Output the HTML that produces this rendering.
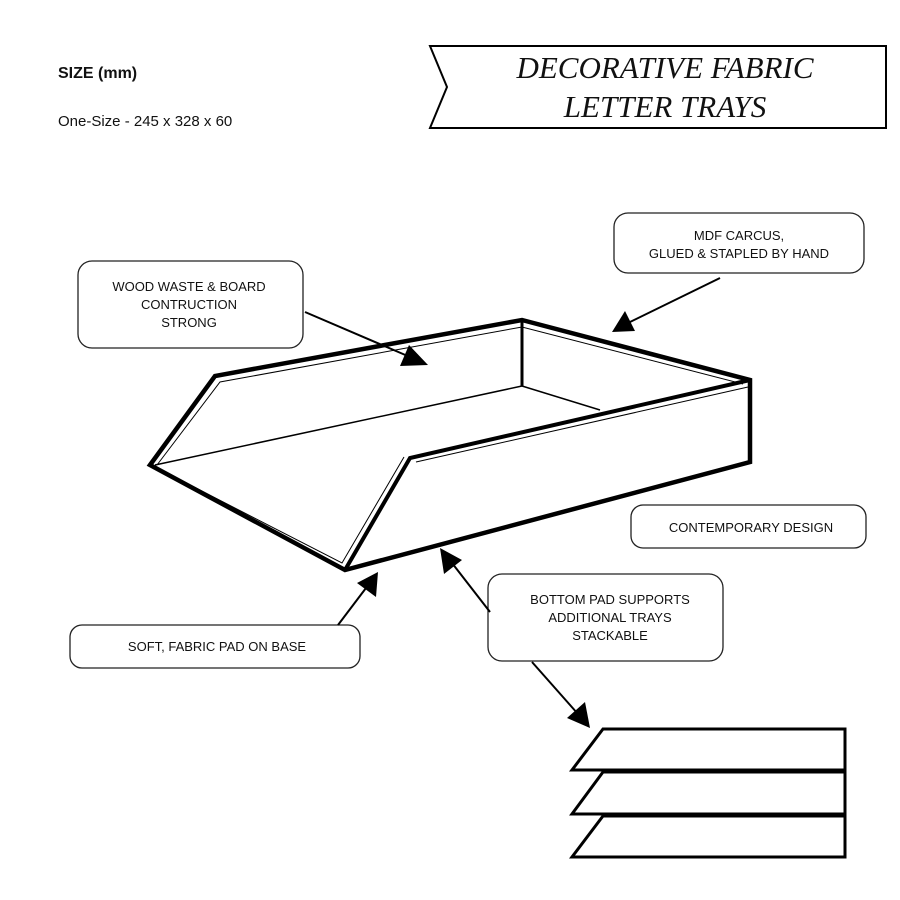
<!DOCTYPE html>
<html><head><style>
body{margin:0;width:900px;height:900px;background:#fff;overflow:hidden}
svg{position:absolute;left:0;top:0}
text{font-family:"Liberation Sans",sans-serif;font-size:13px;fill:#111}
</style></head><body>
<svg width="900" height="900" viewBox="0 0 900 900">
<text x="58" y="78" style="font-size:16px;font-weight:bold">SIZE (mm)</text>
<text x="58" y="126" style="font-size:15px">One-Size - 245 x 328 x 60</text>
<polygon points="430,46 886,46 886,128 430,128 447,87" fill="none" stroke="#000" stroke-width="2"/>
<text x="665" y="78" text-anchor="middle" style="font-family:'Liberation Serif',serif;font-style:italic;font-size:31px">DECORATIVE FABRIC</text>
<text x="665" y="117" text-anchor="middle" style="font-family:'Liberation Serif',serif;font-style:italic;font-size:31px">LETTER TRAYS</text>
<g fill="none" stroke="#222" stroke-width="1.3">
<rect x="78" y="261" width="225" height="87" rx="14"/>
<rect x="614" y="213" width="250" height="60" rx="14"/>
<rect x="631" y="505" width="235" height="43" rx="12"/>
<rect x="488" y="574" width="235" height="87" rx="14"/>
<rect x="70" y="625" width="290" height="43" rx="12"/>
</g>
<text x="189" y="291" text-anchor="middle">WOOD WASTE &amp; BOARD</text>
<text x="189" y="309" text-anchor="middle">CONTRUCTION</text>
<text x="189" y="327" text-anchor="middle">STRONG</text>
<text x="739" y="240" text-anchor="middle">MDF CARCUS,</text>
<text x="739" y="258" text-anchor="middle">GLUED &amp; STAPLED BY HAND</text>
<text x="751" y="532" text-anchor="middle">CONTEMPORARY DESIGN</text>
<text x="610" y="604" text-anchor="middle">BOTTOM PAD SUPPORTS</text>
<text x="610" y="622" text-anchor="middle">ADDITIONAL TRAYS</text>
<text x="610" y="640" text-anchor="middle">STACKABLE</text>
<text x="217" y="651" text-anchor="middle">SOFT, FABRIC PAD ON BASE</text>
<g fill="none" stroke="#000" stroke-linejoin="miter">
<polygon points="150,465 215,376 522,320 750,380 750,462 345,570" stroke-width="4.5"/>
<polyline points="345,570 410,458 750,380" stroke-width="4"/>
<polyline points="157,465 220,382 522,327 743,384" stroke-width="1"/>
<polyline points="157,468 342,563 404,457" stroke-width="1"/>
<line x1="416" y1="462" x2="748" y2="387" stroke-width="1"/>
<line x1="522" y1="320" x2="522" y2="386" stroke-width="3"/>
<line x1="155" y1="465" x2="522" y2="386" stroke-width="1.5"/>
<line x1="522" y1="386" x2="600" y2="410" stroke-width="1.5"/>
</g>
<g stroke="#000" stroke-width="2">
<line x1="305" y1="312" x2="410" y2="357"/>
<line x1="720" y1="278" x2="630" y2="322"/>
<line x1="338" y1="625" x2="366" y2="588"/>
<line x1="490" y1="612" x2="452" y2="563"/>
<line x1="532" y1="662" x2="578" y2="714"/>
</g>
<g fill="#000">
<polygon points="428,365 400,366 409,345"/>
<polygon points="612,332 625,311 635,331"/>
<polygon points="378,572 376,597 357,583"/>
<polygon points="440,548 462,560 444,574"/>
<polygon points="590,728 567,718 585,702"/>
</g>
<g fill="#fff" stroke="#000" stroke-width="3">
<polygon points="603,816 845,816 845,857 572,857"/>
<polygon points="603,772 845,772 845,814 572,814"/>
<polygon points="603,729 845,729 845,770 572,770"/>
</g>
</svg>
</body></html>
